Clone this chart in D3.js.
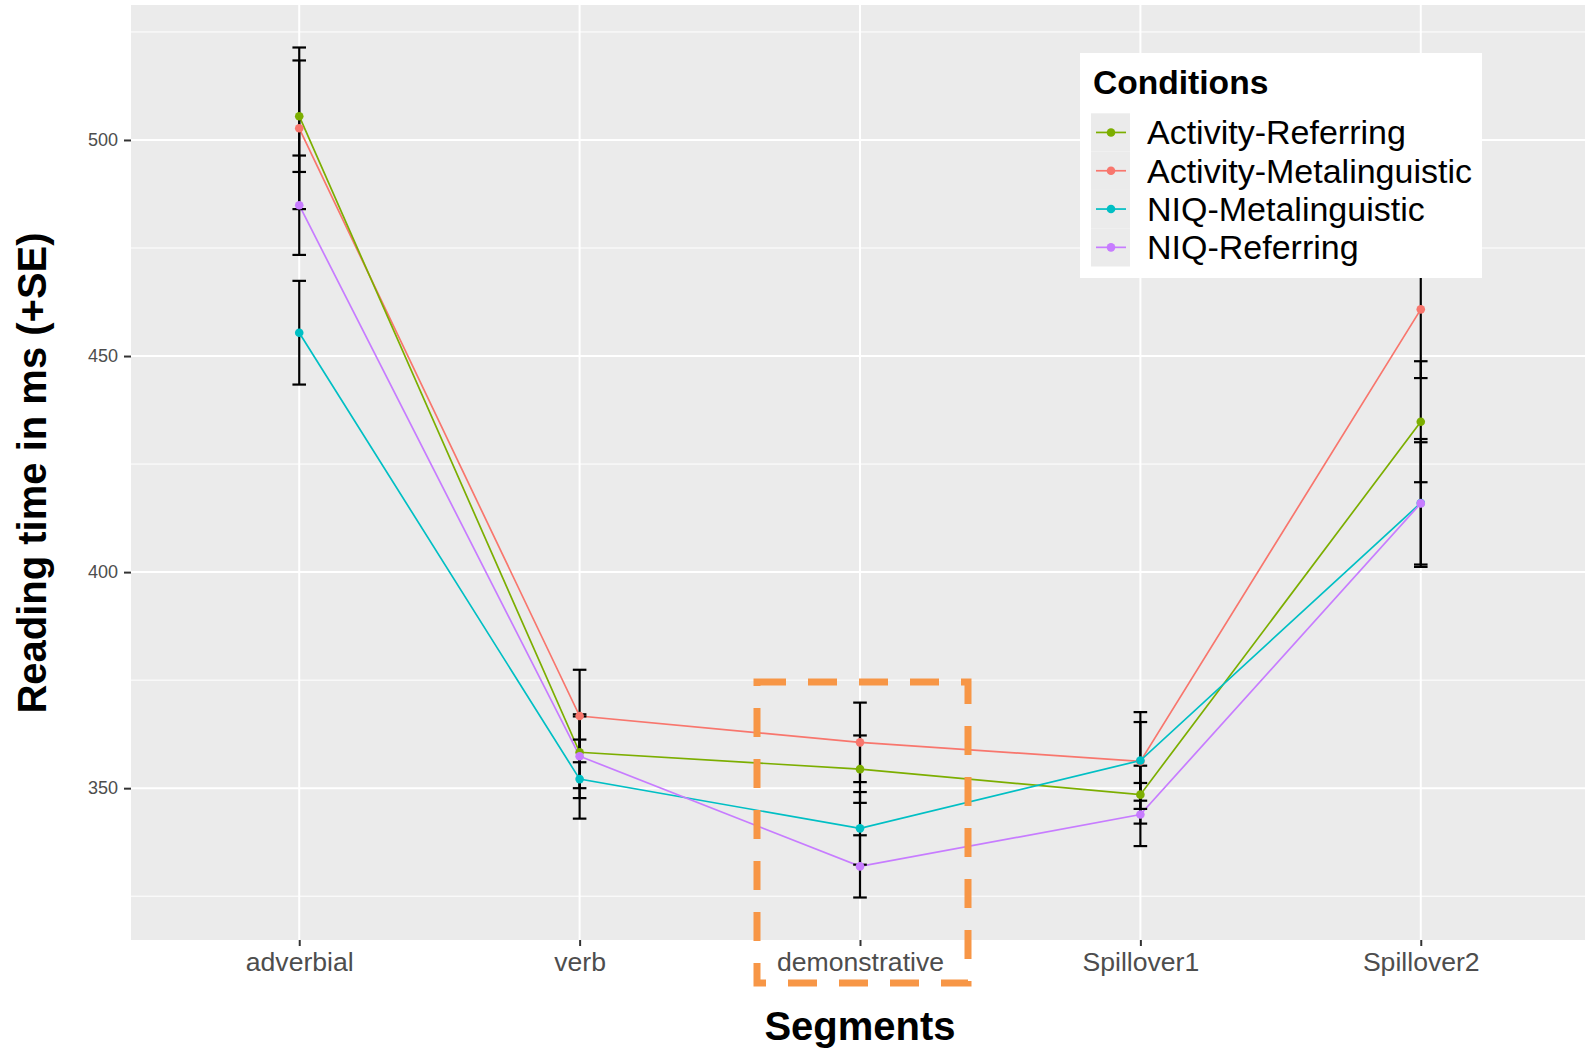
<!DOCTYPE html>
<html>
<head>
<meta charset="utf-8">
<script src="https://cdn.jsdelivr.net/npm/d3@7"></script>
<style>
  html, body { margin: 0; padding: 0; background: #fff; }
  svg { display: block; font-family: "Liberation Sans", Arial, sans-serif; }
</style>
</head>
<body>
<svg id="chart" width="1585" height="1048"></svg>
<script>
// ---- data ----
const categories = ["adverbial", "verb", "demonstrative", "Spillover1", "Spillover2"];
const seriesNames = ["Activity-Metalinguistic", "Activity-Referring", "NIQ-Metalinguistic", "NIQ-Referring"];
const legendOrder = ["Activity-Referring", "Activity-Metalinguistic", "NIQ-Metalinguistic", "NIQ-Referring"];
const seriesColors = ["#F8766D", "#7CAE00", "#00BFC4", "#C77CFF"];

const activityMetaMean  = [502.7, 366.7, 360.6, 356.2, 460.8];
const activityMetaSE    = [18.7, 10.7, 9.2, 9.1, 15.9];
const activityRefMean   = [505.5, 358.3, 354.4, 348.5, 434.8];
const activityRefSE     = [12.9, 8.3, 7.8, 6.7, 14.0];
const niqMetaMean       = [455.4, 352.1, 340.7, 356.4, 416.0];
const niqMetaSE         = [12.0, 9.15, 8.4, 11.2, 14.8];
const niqRefMean        = [484.9, 357.4, 331.9, 343.9, 415.9];
const niqRefSE          = [11.5, 9.7, 7.2, 7.3, 14.15];

const yMajorTicks = [350, 400, 450, 500];
const yMinorTicks = [325, 375, 425, 475, 525];

const xTitle = "Segments";
const yTitle = "Reading time in ms (+SE)";
const legendTitle = "Conditions";

// ---- build series ----
const means = [activityMetaMean, activityRefMean, niqMetaMean, niqRefMean];
const ses = [activityMetaSE, activityRefSE, niqMetaSE, niqRefSE];
const series = seriesNames.map((name, i) => ({
  name, color: seriesColors[i],
  values: categories.map((c, j) => ({ cat: c, mean: means[i][j], se: ses[i][j] }))
}));

// ---- layout ----
const svg = d3.select("#chart");
const panel = { left: 131, right: 1589, top: 5, bottom: 940 };

const x = d3.scalePoint().domain(categories).range([panel.left, panel.right]).padding(0.6);

const allLo = d3.min(series, s => d3.min(s.values, v => v.mean - v.se));
const allHi = d3.max(series, s => d3.max(s.values, v => v.mean + v.se));
const pad = (allHi - allLo) * 0.05;
const y = d3.scaleLinear().domain([allLo - pad, allHi + pad]).range([panel.bottom, panel.top]);

svg.append("rect").attr("width", 1585).attr("height", 1048).attr("fill", "#fff");

svg.append("defs").append("clipPath").attr("id", "pclip")
  .append("rect").attr("x", panel.left).attr("y", panel.top)
  .attr("width", panel.right - panel.left).attr("height", panel.bottom - panel.top);

const g = svg.append("g").attr("clip-path", "url(#pclip)");
g.append("rect").attr("x", panel.left).attr("y", panel.top)
  .attr("width", panel.right - panel.left).attr("height", panel.bottom - panel.top)
  .attr("fill", "#EBEBEB");

// gridlines
g.selectAll(".minor").data(yMinorTicks).join("line")
  .attr("x1", panel.left).attr("x2", panel.right)
  .attr("y1", d => y(d)).attr("y2", d => y(d))
  .attr("stroke", "#fff").attr("stroke-width", 1);
g.selectAll(".major").data(yMajorTicks).join("line")
  .attr("x1", panel.left).attr("x2", panel.right)
  .attr("y1", d => y(d)).attr("y2", d => y(d))
  .attr("stroke", "#fff").attr("stroke-width", 2);
g.selectAll(".vmajor").data(categories).join("line")
  .attr("x1", d => x(d)).attr("x2", d => x(d))
  .attr("y1", panel.top).attr("y2", panel.bottom)
  .attr("stroke", "#fff").attr("stroke-width", 2);

// lines
const line = d3.line().x(d => x(d.cat)).y(d => y(d.mean));
g.selectAll(".sline").data(series).join("path")
  .attr("d", s => line(s.values))
  .attr("fill", "none").attr("stroke", s => s.color).attr("stroke-width", 1.7);

// error bars
const capHalf = 6.8;
series.forEach(s => {
  const eb = g.append("g");
  s.values.forEach(v => {
    const cx = x(v.cat), y1 = y(v.mean + v.se), y2 = y(v.mean - v.se);
    eb.append("line").attr("x1", cx).attr("x2", cx).attr("y1", y1).attr("y2", y2)
      .attr("stroke", "#000").attr("stroke-width", 2.2);
    [y1, y2].forEach(yy => eb.append("line")
      .attr("x1", cx - capHalf).attr("x2", cx + capHalf).attr("y1", yy).attr("y2", yy)
      .attr("stroke", "#000").attr("stroke-width", 2.2));
  });
});

// points
series.forEach(s => {
  g.append("g").selectAll("circle").data(s.values).join("circle")
    .attr("cx", d => x(d.cat)).attr("cy", d => y(d.mean)).attr("r", 4.3)
    .attr("fill", s.color);
});

// axes
const yAxis = svg.append("g").attr("transform", `translate(${panel.left},0)`)
  .call(d3.axisLeft(y).tickValues(yMajorTicks).tickSize(7).tickPadding(6));
yAxis.select(".domain").remove();
yAxis.selectAll(".tick line").attr("stroke", "#333").attr("stroke-width", 2);
yAxis.selectAll(".tick text").attr("fill", "#4D4D4D").attr("font-size", 18)
  .attr("font-family", "Liberation Sans, Arial, sans-serif");

const xAxis = svg.append("g").attr("transform", `translate(0,${panel.bottom})`)
  .call(d3.axisBottom(x).tickSize(6));
xAxis.select(".domain").remove();
xAxis.selectAll(".tick line").attr("stroke", "#333").attr("stroke-width", 2);
xAxis.selectAll(".tick text").attr("fill", "#4D4D4D").attr("font-size", 26.6)
  .attr("font-family", "Liberation Sans, Arial, sans-serif")
  .attr("y", 31).attr("dy", 0);

// titles
svg.append("text").attr("x", x("demonstrative")).attr("y", 1040)
  .attr("text-anchor", "middle").attr("font-weight", "bold").attr("font-size", 40)
  .attr("fill", "#000").text(xTitle);
svg.append("text").attr("transform", `translate(46,473) rotate(-90)`)
  .attr("text-anchor", "middle").attr("font-weight", "bold").attr("font-size", 40)
  .attr("fill", "#000").text(yTitle);

// legend
const lg = svg.append("g");
lg.append("rect").attr("x", 1080).attr("y", 53).attr("width", 402).attr("height", 225).attr("fill", "#fff");
lg.append("text").attr("x", 1093).attr("y", 94).attr("font-weight", "bold").attr("font-size", 33.6)
  .attr("fill", "#000").text(legendTitle);
const keyH = 38.3, keyTop = 113.3;
legendOrder.forEach((name, i) => {
  const s = series.find(d => d.name === name);
  const cy = keyTop + keyH * i + keyH / 2;
  lg.append("rect").attr("x", 1091).attr("y", keyTop + keyH * i).attr("width", 39).attr("height", keyH)
    .attr("fill", "#EBEBEB");
  lg.append("line").attr("x1", 1096).attr("x2", 1126).attr("y1", cy).attr("y2", cy)
    .attr("stroke", s.color).attr("stroke-width", 1.7);
  lg.append("circle").attr("cx", 1111).attr("cy", cy).attr("r", 4.3).attr("fill", s.color);
  lg.append("text").attr("x", 1147).attr("y", cy + 12).attr("font-size", 34)
    .attr("fill", "#000").text(name);
});

// orange dashed highlight box
svg.append("rect").attr("x", 757).attr("y", 682).attr("width", 211).attr("height", 301)
  .attr("fill", "none").attr("stroke", "#F79646").attr("stroke-width", 7)
  .attr("stroke-dasharray", "29 22");
</script>
</body>
</html>
